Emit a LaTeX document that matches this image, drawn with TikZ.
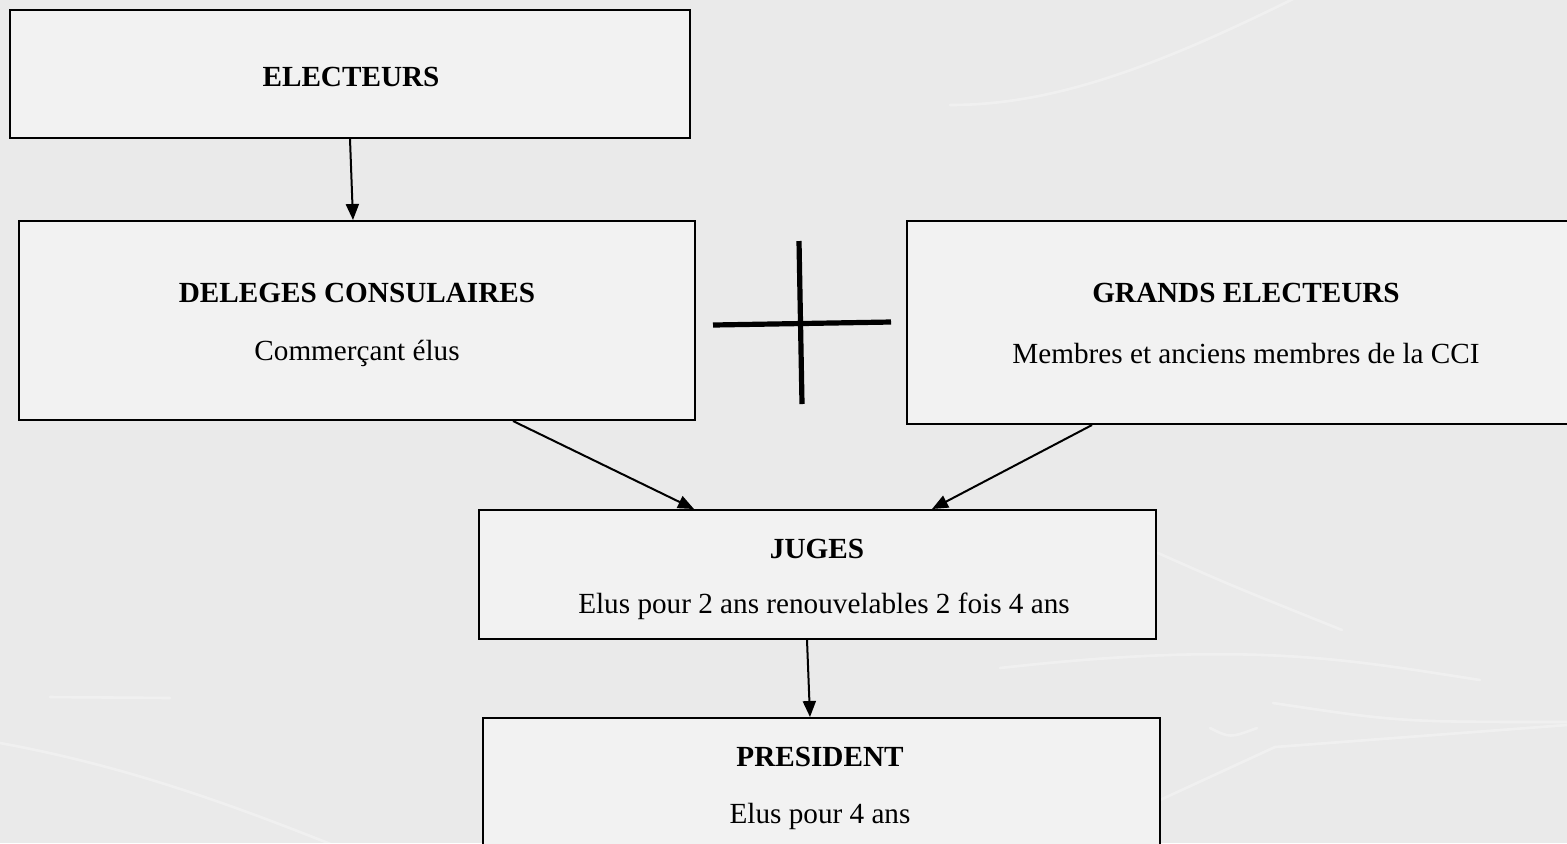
\documentclass[tikz,border=0pt]{standalone}
\usepackage{fontspec}
\setmainfont{Liberation Serif}
\usetikzlibrary{arrows.meta,calc}
\definecolor{bgcol}{HTML}{EAEAEA}
\definecolor{boxcol}{HTML}{F2F2F2}
\begin{document}
\begin{tikzpicture}[x=0.5pt,y=-0.5pt,
  box/.style={draw=black,line width=1pt,fill=boxcol,rectangle,inner sep=0pt},
  ttl/.style={font=\fontsize{14.6}{17}\selectfont\bfseries,inner sep=0pt},
  sub/.style={font=\fontsize{14.6}{17}\selectfont,inner sep=0pt},
  arr/.style={line width=1pt,-{Triangle[length=8pt,width=6.5pt]}},
  swoosh/.style={white,opacity=0.3,line width=1.3pt,line cap=round},
  crossline/.style={line width=2.6pt,black}]
\useasboundingbox (0,0) rectangle (1567,843);
\fill[bgcol] (0,0) rectangle (1567,843);
% background swooshes
\draw[swoosh] (950,105) .. controls (1050,105) and (1150,70) .. (1295,-2);
\draw[swoosh] (0,743) .. controls (120,765) and (220,800) .. (333,845);
\draw[swoosh] (1158,553) .. controls (1230,585) .. (1342,630);
\draw[swoosh] (1000,668) .. controls (1250,640) and (1350,660) .. (1480,680);
\draw[swoosh] (1273,703) .. controls (1400,722) .. (1567,722);
\draw[swoosh] (1160,800) -- (1275,747) -- (1567,725);
\draw[swoosh] (50,697) -- (170,698);
\draw[swoosh] (1210,728) .. controls (1230,738) .. (1257,728);
% boxes
\node[box,minimum width=340pt,minimum height=64pt] (elect) at (350,74) {};
\node[box,minimum width=338pt,minimum height=99.5pt] (deleg) at (357,320.5) {};
\node[box,minimum width=339pt,minimum height=101.5pt] (grands) at (1246,322.5) {};
\node[box,minimum width=338.5pt,minimum height=64.5pt] (juges) at (817.5,574.5) {};
\node[box,minimum width=338.5pt,minimum height=68.5pt] (pres) at (821.5,786.5) {};
% texts
\node[ttl] (electT) at (351,77) {ELECTEURS};
\node[ttl] (delegT) at (357,293) {DELEGES CONSULAIRES};
\node[sub] (delegS) at (357,353) {Commerçant élus};
\node[ttl] (grandsT) at (1246,293) {GRANDS ELECTEURS};
\node[sub] (grandsS) at (1246,353) {Membres et anciens membres de la CCI};
\node[ttl] (jugesT) at (817,549) {JUGES};
\node[sub] (jugesS) at (824,606) {Elus pour 2 ans renouvelables 2 fois 4 ans};
\node[ttl] (presT) at (820,757) {PRESIDENT};
\node[sub] (presS) at (820,816) {Elus pour 4 ans};
% connectors
\draw[arr] (elect.south) -- ([xshift=-2pt]deleg.north);
\draw[arr] ([xshift=78pt]deleg.south) -- ([xshift=-61.75pt]juges.north);
\draw[arr] ([xshift=-77pt]grands.south) -- ([xshift=57.25pt]juges.north);
\draw[arr] ([xshift=-5.25pt]juges.south) -- ([xshift=-5.75pt]pres.north);
% plus sign between the two electoral bodies
\coordinate (vtop) at (799,241);
\coordinate (vbot) at (802,404);
\coordinate (hl) at (713,325);
\coordinate (hr) at (891,322);
\draw[crossline] (vtop) -- (vbot);
\draw[crossline] (hl) -- (hr);
\end{tikzpicture}
\end{document}
